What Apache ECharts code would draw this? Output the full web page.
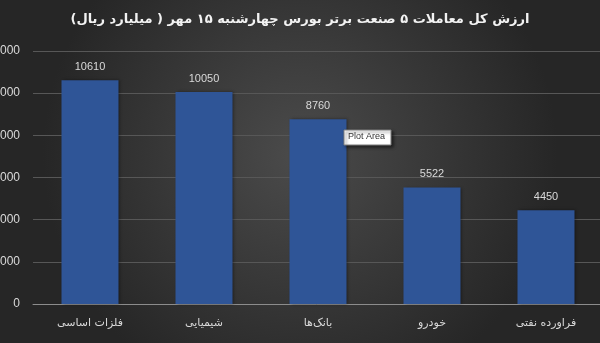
<!DOCTYPE html>
<html><head><meta charset="utf-8">
<script src="https://cdn.jsdelivr.net/npm/echarts@6/dist/echarts.min.js"></script>
<style>html,body{margin:0;padding:0;}#c{width:600px;height:343px;}</style>
</head><body><div id="c"></div>
<script>
var titleText = 'ارزش کل معاملات ۵ صنعت برتر بورس چهارشنبه ۱۵ مهر ( میلیارد ریال)';
var categories = ['فلزات اساسی', 'شیمیایی', 'بانک‌ها', 'خودرو', 'فراورده نفتی'];
var values = [10610, 10050, 8760, 5522, 4450];
var yMin = 0, yMax = 12000, yStep = 2000;

var chart = echarts.init(document.getElementById('c'), null, {renderer: 'canvas'});
chart.setOption({
  animation: false,
  backgroundColor: {
    type: 'radial', x: 0.5, y: 0.45, r: 0.75,
    colorStops: [{offset: 0, color: '#4b4b4b'}, {offset: 1, color: '#262626'}]
  },
  title: {
    text: titleText, left: 'center', top: 8,
    textStyle: {color: '#f2f2f2', fontSize: 13, fontWeight: 'bold', fontFamily: 'DejaVu Sans'}
  },
  grid: {left: 33, right: -3, top: 51, bottom: 39, containLabel: false, outerBoundsMode: 'none'},
  xAxis: {
    type: 'category', data: categories,
    axisLine: {lineStyle: {color: '#8c8c8c'}},
    axisTick: {show: false},
    axisLabel: {color: '#d9d9d9', fontSize: 11, margin: 14, fontFamily: 'DejaVu Sans'}
  },
  yAxis: {
    type: 'value', min: yMin, max: yMax, interval: yStep,
    axisLine: {show: false}, axisTick: {show: false},
    splitLine: {lineStyle: {color: '#575757'}},
    axisLabel: {color: '#d9d9d9', fontSize: 12, margin: 13, fontFamily: 'Liberation Sans',
      formatter: function (v) { return String(v); }}
  },
  series: [{
    type: 'bar', data: values, barWidth: '50%',
    itemStyle: {color: '#2f5597', shadowColor: 'rgba(0,0,0,0.4)', shadowBlur: 3, shadowOffsetX: 1},
    label: {show: true, position: 'top', distance: 8, color: '#d9d9d9', fontSize: 11, fontFamily: 'Liberation Sans'}
  }],
  graphic: [
    {type: 'rect', shape: {x: 344, y: 130, width: 47, height: 15}, z: 100,
     style: {fill: '#ffffff', stroke: '#7f7f7f', lineWidth: 1, shadowColor: 'rgba(0,0,0,0.5)', shadowBlur: 3, shadowOffsetX: 2, shadowOffsetY: 2}},
    {type: 'text', x: 348, y: 132, z: 101,
     style: {text: 'Plot Area', fill: '#333', fontSize: 9, fontFamily: 'Liberation Sans', textVerticalAlign: 'top'}}
  ]
});
</script></body></html>
